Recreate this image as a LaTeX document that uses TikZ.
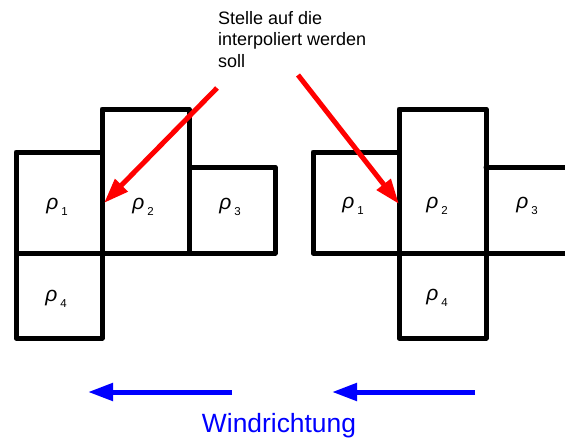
\documentclass[tikz,border=0pt]{standalone}
\usepackage{fontspec}
\setmainfont{Liberation Sans}
\usetikzlibrary{arrows.meta}
\newcommand\rhosub[1]{{\itshape ρ}\hspace{3pt}\raisebox{-6pt}{\fontsize{11.5}{11.5}\selectfont #1}}
\begin{document}
\begin{tikzpicture}[x=1pt,y=-1pt,
  cell/.style={line width=5pt, line join=round, line cap=round},
  lab/.style={font=\fontsize{21}{21}\selectfont, inner sep=0pt},
  redarrow/.style={draw=red, line width=5pt, -{Triangle[length=25pt,width=17pt]}},
  bluearrow/.style={draw=blue, line width=5pt, -{Triangle[length=25pt,width=17pt]}}]
\useasboundingbox (0,0) rectangle (565,439);
% left grid
\draw[cell] (16,152) rectangle (102,253);
\draw[cell] (102,109) rectangle (189,253);
\draw[cell] (189,167) rectangle (275,253);
\draw[cell] (16,253) rectangle (102,338);
% right grid
\draw[cell] (313,152) rectangle (399,253);
\draw[cell] (399,109) rectangle (486,253);
\draw[cell] (486,167) -- (568,167);
\draw[cell] (486,253) -- (568,253);
\draw[cell] (399,253) rectangle (486,338);
% labels
\node[lab] (l1) at (57,207) {\rhosub{1}};
\node[lab] (l2) at (143,207) {\rhosub{2}};
\node[lab] (l3) at (230,207) {\rhosub{3}};
\node[lab] (l4) at (56,299) {\rhosub{4}};
\node[lab] (r1) at (353,206) {\rhosub{1}};
\node[lab] (r2) at (437,206) {\rhosub{2}};
\node[lab] (r3) at (527,206) {\rhosub{3}};
\node[lab] (r4) at (437,298) {\rhosub{4}};
% note
\node[anchor=north west, align=left, inner sep=0pt, font=\fontsize{18}{21.5}\selectfont] (note) at (218,11) {Stelle auf die\\interpoliert werden\\soll};
\coordinate (rs1) at (217,88);
\coordinate (rt1) at (104,203);
\coordinate (rs2) at (298,75);
\coordinate (rt2) at (399,204);
\draw[redarrow] (rs1) -- (rt1);
\draw[redarrow] (rs2) -- (rt2);
% wind
\coordinate (bs1) at (232,392);
\coordinate (bt1) at (88,392);
\coordinate (bs2) at (475,392);
\coordinate (bt2) at (332,392);
\draw[bluearrow] (bs1) -- (bt1);
\draw[bluearrow] (bs2) -- (bt2);
\node[anchor=base, inner sep=0pt, text=blue, font=\fontsize{26.4}{26.4}\selectfont] (wind) at (279,432) {Windrichtung};
\end{tikzpicture}
\end{document}
